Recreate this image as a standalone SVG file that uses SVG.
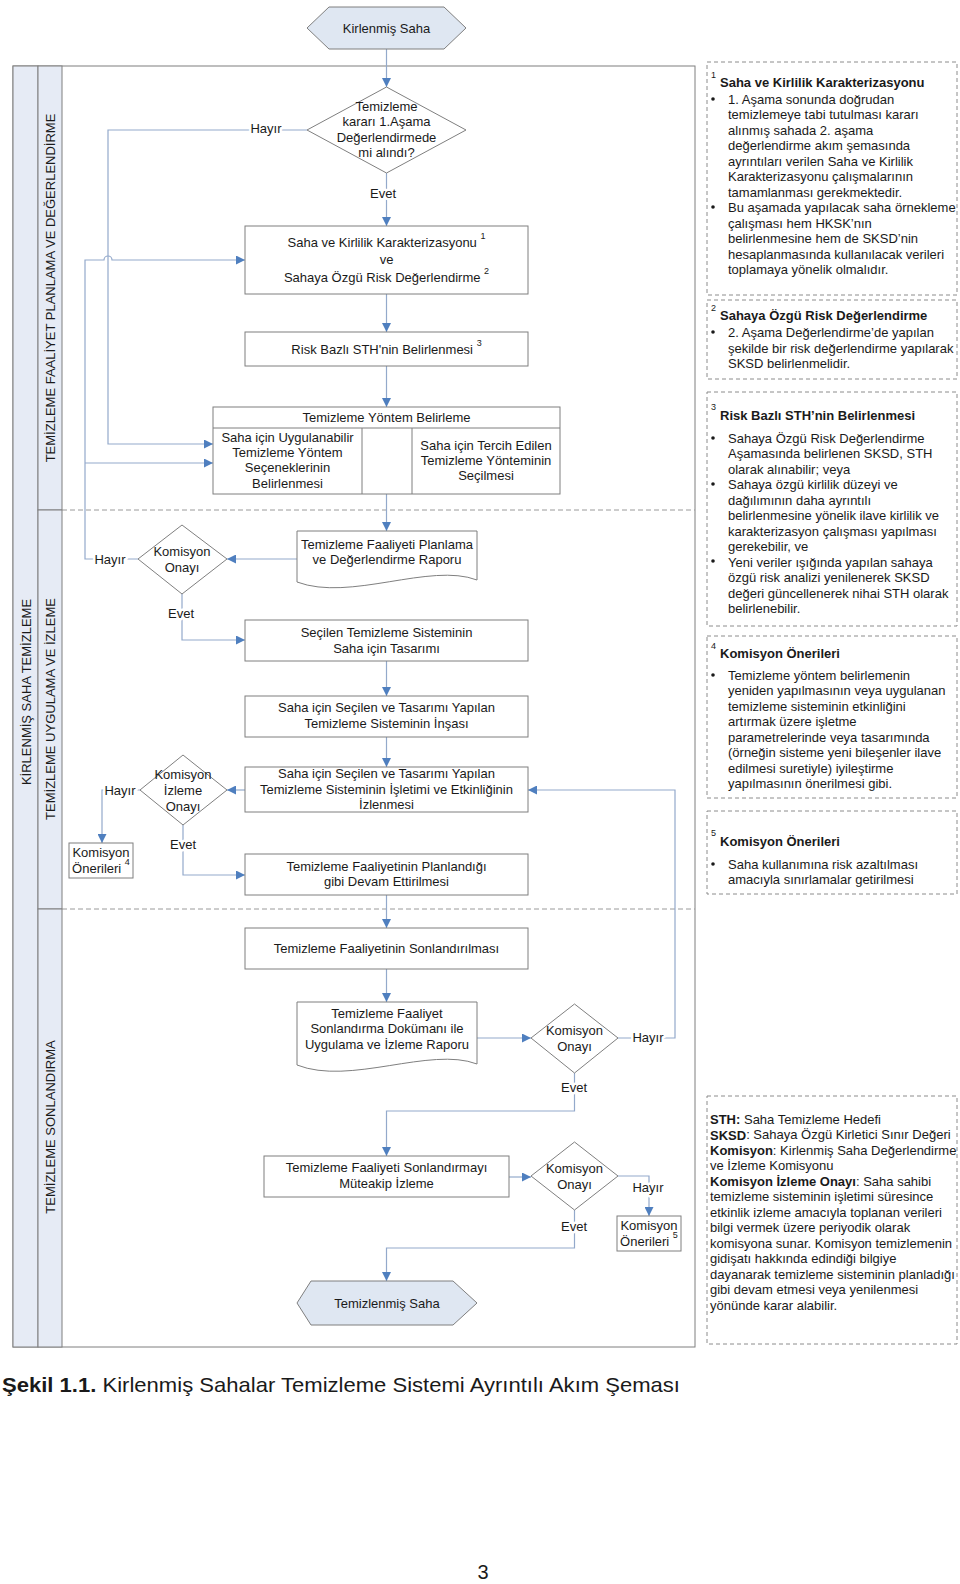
<svg xmlns="http://www.w3.org/2000/svg" width="960" height="1584" viewBox="0 0 960 1584">
<style>
.t{font-family:"Liberation Sans",Arial,sans-serif;font-size:13px;fill:#1a1a1a}
.c{text-anchor:middle;dominant-baseline:central}
.m{dominant-baseline:central}
.b{font-weight:bold}
.lbl{paint-order:stroke;stroke:#fff;stroke-width:5px;stroke-linejoin:round}
.box{fill:#fff;stroke:#7f7f7f;stroke-width:1}
.term{fill:#dfe7f2;stroke:#7f7f7f;stroke-width:1}
.note{fill:#fff;stroke:#8c8c8c;stroke-width:1;stroke-dasharray:4 3}
.conn{fill:none;stroke:#93a9cb;stroke-width:1.2}
.lane{fill:#e6ebf5;stroke:#7f7f7f;stroke-width:1}
.sep{stroke:#9a9a9a;stroke-width:1;stroke-dasharray:5 3}
.sup{font-size:9px}
</style>
<defs>
<marker id="ah" viewBox="0 0 10 10" refX="10" refY="5" markerWidth="9" markerHeight="9" markerUnits="userSpaceOnUse" orient="auto"><path d="M0,0 L10,5 L0,10 z" fill="#4f7fbf"/></marker>
</defs>
<rect width="960" height="1584" fill="#fff"/>

<g id="lanes">
<rect x="13" y="66" width="682" height="1281" fill="#fff" stroke="#7f7f7f"/>
<rect class="lane" x="13" y="66" width="25" height="1281"/>
<rect class="lane" x="38" y="66" width="24" height="444"/>
<rect class="lane" x="38" y="510" width="24" height="399"/>
<rect class="lane" x="38" y="909" width="24" height="438"/>
<line class="sep" x1="62" y1="510" x2="695" y2="510"/>
<line class="sep" x1="62" y1="909" x2="695" y2="909"/>
<text class="t c" transform="translate(26,692) rotate(-90)">KİRLENMİŞ SAHA TEMİZLEME</text>
<text class="t c" transform="translate(50,288) rotate(-90)">TEMİZLEME FAALİYET PLANLAMA VE DEĞERLENDİRME</text>
<text class="t c" transform="translate(50,709) rotate(-90)">TEMİZLEME UYGULAMA VE İZLEME</text>
<text class="t c" transform="translate(50,1127) rotate(-90)">TEMİZLEME SONLANDIRMA</text>
</g>

<g id="connectors">
<path class="conn" d="M386.5,49 V87" marker-end="url(#ah)"/>
<path class="conn" d="M386.5,173 V226" marker-end="url(#ah)"/>
<path class="conn" d="M307,130 H108 V444 H213" marker-end="url(#ah)"/>
<path class="conn" d="M138,559 H85 V260 H104 A4,4 0 0 1 112,260 H245" marker-end="url(#ah)"/>
<path class="conn" d="M85,463 H213" marker-end="url(#ah)"/>
<path class="conn" d="M386.5,294 V332" marker-end="url(#ah)"/>
<path class="conn" d="M386.5,366 V407" marker-end="url(#ah)"/>
<path class="conn" d="M362,461 H412" marker-end="url(#ah)"/>
<path class="conn" d="M386.5,494 V531" marker-end="url(#ah)"/>
<path class="conn" d="M297,559 H227" marker-end="url(#ah)"/>
<path class="conn" d="M182,594 V640 H245" marker-end="url(#ah)"/>
<path class="conn" d="M386.5,661 V696" marker-end="url(#ah)"/>
<path class="conn" d="M386.5,737 V767" marker-end="url(#ah)"/>
<path class="conn" d="M245,790 H227" marker-end="url(#ah)"/>
<path class="conn" d="M140,790 H102 V843" marker-end="url(#ah)"/>
<path class="conn" d="M183,825 V875 H245" marker-end="url(#ah)"/>
<path class="conn" d="M386.5,895 V928" marker-end="url(#ah)"/>
<path class="conn" d="M386.5,969 V1002" marker-end="url(#ah)"/>
<path class="conn" d="M477,1038 H531" marker-end="url(#ah)"/>
<path class="conn" d="M618,1038 H675 V790 H528" marker-end="url(#ah)"/>
<path class="conn" d="M574.5,1073 V1111 H386.5 V1156" marker-end="url(#ah)"/>
<path class="conn" d="M509,1177 H531" marker-end="url(#ah)"/>
<path class="conn" d="M618,1176 H649 V1216" marker-end="url(#ah)"/>
<path class="conn" d="M574.5,1210 V1248 H386.5 V1281" marker-end="url(#ah)"/>
<text class="t c lbl" x="266" y="128">Hayır</text>
<text class="t c lbl" x="383" y="193">Evet</text>
<text class="t c lbl" x="110" y="559">Hayır</text>
<text class="t c lbl" x="181" y="613">Evet</text>
<text class="t c lbl" x="120" y="790">Hayır</text>
<text class="t c lbl" x="183" y="844">Evet</text>
<text class="t c lbl" x="648" y="1037">Hayır</text>
<text class="t c lbl" x="574" y="1087">Evet</text>
<text class="t c lbl" x="648" y="1187">Hayır</text>
<text class="t c lbl" x="574" y="1226">Evet</text>
</g>

<g id="n-kirlenmis-saha">
<polygon class="term" points="307,28 329,7 444,7 466,28 444,49 329,49"/>
<text class="t c" x="386.5" y="28">Kirlenmiş Saha</text>
</g>
<g id="n-karar">
<polygon class="box" points="386.5,87 466,130 386.5,173 307,130"/>
<text class="t c" x="386.5" y="106">Temizleme</text>
<text class="t c" x="386.5" y="121">kararı 1.Aşama</text>
<text class="t c" x="386.5" y="137">Değerlendirmede</text>
<text class="t c" x="386.5" y="152">mi alındı?</text>
</g>
<g id="n-karakterizasyon">
<rect class="box" x="245" y="226" width="283" height="68"/>
<text class="t c" x="386.5" y="242">Saha ve Kirlilik Karakterizasyonu <tspan class="sup" dy="-6">1</tspan></text>
<text class="t c" x="386.5" y="259">ve</text>
<text class="t c" x="386.5" y="277">Sahaya Özgü Risk Değerlendirme <tspan class="sup" dy="-6">2</tspan></text>
</g>
<g id="n-sth">
<rect class="box" x="245" y="332" width="283" height="34"/>
<text class="t c" x="386.5" y="349">Risk Bazlı STH'nin Belirlenmesi <tspan class="sup" dy="-6">3</tspan></text>
</g>
<g id="n-yontem">
<rect class="box" x="213" y="407" width="347" height="87"/>
<line x1="213" y1="428" x2="560" y2="428" stroke="#7f7f7f"/>
<line x1="362" y1="428" x2="362" y2="494" stroke="#7f7f7f"/>
<line x1="412" y1="428" x2="412" y2="494" stroke="#7f7f7f"/>
<text class="t c" x="386.5" y="417">Temizleme Yöntem Belirleme</text>
<text class="t c" x="287.5" y="437">Saha için Uygulanabilir</text>
<text class="t c" x="287.5" y="452">Temizleme Yöntem</text>
<text class="t c" x="287.5" y="467">Seçeneklerinin</text>
<text class="t c" x="287.5" y="483">Belirlenmesi</text>
<text class="t c" x="486" y="445">Saha için Tercih Edilen</text>
<text class="t c" x="486" y="460">Temizleme Yönteminin</text>
<text class="t c" x="486" y="475">Seçilmesi</text>
</g>
<g id="n-rapor1">
<path class="box" d="M297,531 H477 V580 C430,562 350,602 297,582 Z"/>
<text class="t c" x="387" y="544">Temizleme Faaliyeti Planlama</text>
<text class="t c" x="387" y="559">ve Değerlendirme Raporu</text>
</g>
<g id="n-onay1">
<polygon class="box" points="182,525 227,559 182,594 138,559"/>
<text class="t c" x="182" y="551">Komisyon</text>
<text class="t c" x="182" y="567">Onayı</text>
</g>
<g id="n-tasarim">
<rect class="box" x="245" y="620" width="283" height="41"/>
<text class="t c" x="386.5" y="632">Seçilen Temizleme Sisteminin</text>
<text class="t c" x="386.5" y="648">Saha için Tasarımı</text>
</g>
<g id="n-insa">
<rect class="box" x="245" y="696" width="283" height="41"/>
<text class="t c" x="386.5" y="707">Saha için Seçilen ve Tasarımı Yapılan</text>
<text class="t c" x="386.5" y="723">Temizleme Sisteminin İnşası</text>
</g>
<g id="n-isletim">
<rect class="box" x="245" y="767" width="283" height="45"/>
<text class="t c" x="386.5" y="773">Saha için Seçilen ve Tasarımı Yapılan</text>
<text class="t c" x="386.5" y="789">Temizleme Sisteminin İşletimi ve Etkinliğinin</text>
<text class="t c" x="386.5" y="804">İzlenmesi</text>
</g>
<g id="n-izleme-onay">
<polygon class="box" points="183,755 227,790 183,825 140,790"/>
<text class="t c" x="183" y="774">Komisyon</text>
<text class="t c" x="183" y="790">İzleme</text>
<text class="t c" x="183" y="806">Onayı</text>
</g>
<g id="n-oneri4">
<rect class="box" x="69" y="843" width="64" height="35"/>
<text class="t c" x="101" y="852">Komisyon</text>
<text class="t c" x="101" y="868">Önerileri <tspan class="sup" dy="-6">4</tspan></text>
</g>
<g id="n-devam">
<rect class="box" x="245" y="854" width="283" height="41"/>
<text class="t c" x="386.5" y="866">Temizleme Faaliyetinin Planlandığı</text>
<text class="t c" x="386.5" y="881">gibi Devam Ettirilmesi</text>
</g>
<g id="n-sonlandirma">
<rect class="box" x="245" y="928" width="283" height="41"/>
<text class="t c" x="386.5" y="948">Temizleme Faaliyetinin Sonlandırılması</text>
</g>
<g id="n-rapor2">
<path class="box" d="M297,1002 H477 V1064 C430,1046 350,1086 297,1065 Z"/>
<text class="t c" x="387" y="1013">Temizleme Faaliyet</text>
<text class="t c" x="387" y="1028">Sonlandırma Dokümanı ile</text>
<text class="t c" x="387" y="1044">Uygulama ve İzleme Raporu</text>
</g>
<g id="n-onay2">
<polygon class="box" points="574.5,1004 618,1038 574.5,1073 531,1038"/>
<text class="t c" x="574.5" y="1030">Komisyon</text>
<text class="t c" x="574.5" y="1046">Onayı</text>
</g>
<g id="n-muteakip">
<rect class="box" x="264" y="1156" width="245" height="41"/>
<text class="t c" x="386.5" y="1167">Temizleme Faaliyeti Sonlandırmayı</text>
<text class="t c" x="386.5" y="1183">Müteakip İzleme</text>
</g>
<g id="n-onay3">
<polygon class="box" points="574.5,1142 618,1176 574.5,1210 531,1176"/>
<text class="t c" x="574.5" y="1168">Komisyon</text>
<text class="t c" x="574.5" y="1184">Onayı</text>
</g>
<g id="n-oneri5">
<rect class="box" x="617" y="1216" width="64" height="35"/>
<text class="t c" x="649" y="1225">Komisyon</text>
<text class="t c" x="649" y="1241">Önerileri <tspan class="sup" dy="-6">5</tspan></text>
</g>
<g id="n-temizlenmis-saha">
<polygon class="term" points="297,1303 311,1281 453,1281 477,1303 453,1325 311,1325"/>
<text class="t c" x="387" y="1303">Temizlenmiş Saha</text>
</g>

<g id="note1">
<rect class="note" x="707" y="62" width="250" height="233"/>
<text class="t sup" x="711" y="78">1</text>
<text class="t m b" x="720" y="82">Saha ve Kirlilik Karakterizasyonu</text>
<circle cx="713" cy="99" r="1.8" fill="#1a1a1a"/>
<circle cx="713" cy="207" r="1.8" fill="#1a1a1a"/>
<text class="t m" x="728" y="99">1. Aşama sonunda doğrudan</text>
<text class="t m" x="728" y="114.5">temizlemeye tabi tutulması kararı</text>
<text class="t m" x="728" y="130">alınmış sahada 2. aşama</text>
<text class="t m" x="728" y="145.5">değerlendirme akım şemasında</text>
<text class="t m" x="728" y="161">ayrıntıları verilen Saha ve Kirlilik</text>
<text class="t m" x="728" y="176.5">Karakterizasyonu çalışmalarının</text>
<text class="t m" x="728" y="192">tamamlanması gerekmektedir.</text>
<text class="t m" x="728" y="207.5">Bu aşamada yapılacak saha örnekleme</text>
<text class="t m" x="728" y="223">çalışması hem HKSK’nın</text>
<text class="t m" x="728" y="238.5">belirlenmesine hem de SKSD’nin</text>
<text class="t m" x="728" y="254">hesaplanmasında kullanılacak verileri</text>
<text class="t m" x="728" y="269.5">toplamaya yönelik olmalıdır.</text>
</g>
<g id="note2">
<rect class="note" x="707" y="300" width="250" height="79"/>
<text class="t sup" x="711" y="311">2</text>
<text class="t m b" x="720" y="315">Sahaya Özgü Risk Değerlendirme</text>
<circle cx="713" cy="332" r="1.8" fill="#1a1a1a"/>
<text class="t m" x="728" y="332">2. Aşama Değerlendirme’de yapılan</text>
<text class="t m" x="728" y="348">şekilde bir risk değerlendirme yapılarak</text>
<text class="t m" x="728" y="363">SKSD belirlenmelidir.</text>
</g>
<g id="note3">
<rect class="note" x="707" y="392" width="250" height="234"/>
<text class="t sup" x="711" y="410">3</text>
<text class="t m b" x="720" y="415">Risk Bazlı STH’nin Belirlenmesi</text>
<circle cx="713" cy="438" r="1.8" fill="#1a1a1a"/>
<circle cx="713" cy="484" r="1.8" fill="#1a1a1a"/>
<circle cx="713" cy="561" r="1.8" fill="#1a1a1a"/>
<text class="t m" x="728" y="438">Sahaya Özgü Risk Değerlendirme</text>
<text class="t m" x="728" y="453.5">Aşamasında belirlenen SKSD, STH</text>
<text class="t m" x="728" y="469">olarak alınabilir; veya</text>
<text class="t m" x="728" y="484.5">Sahaya özgü kirlilik düzeyi ve</text>
<text class="t m" x="728" y="500">dağılımının daha ayrıntılı</text>
<text class="t m" x="728" y="515.5">belirlenmesine yönelik ilave kirlilik ve</text>
<text class="t m" x="728" y="531">karakterizasyon çalışması yapılması</text>
<text class="t m" x="728" y="546.5">gerekebilir, ve</text>
<text class="t m" x="728" y="562">Yeni veriler ışığında yapılan sahaya</text>
<text class="t m" x="728" y="577.5">özgü risk analizi yenilenerek SKSD</text>
<text class="t m" x="728" y="593">değeri güncellenerek nihai STH olarak</text>
<text class="t m" x="728" y="608.5">belirlenebilir.</text>
</g>
<g id="note4">
<rect class="note" x="707" y="636" width="250" height="162"/>
<text class="t sup" x="711" y="649">4</text>
<text class="t m b" x="720" y="653">Komisyon Önerileri</text>
<circle cx="713" cy="675" r="1.8" fill="#1a1a1a"/>
<text class="t m" x="728" y="675">Temizleme yöntem belirlemenin</text>
<text class="t m" x="728" y="690.5">yeniden yapılmasının veya uygulanan</text>
<text class="t m" x="728" y="706">temizleme sisteminin etkinliğini</text>
<text class="t m" x="728" y="721.5">artırmak üzere işletme</text>
<text class="t m" x="728" y="737">parametrelerinde veya tasarımında</text>
<text class="t m" x="728" y="752.5">(örneğin sisteme yeni bileşenler ilave</text>
<text class="t m" x="728" y="768">edilmesi suretiyle) iyileştirme</text>
<text class="t m" x="728" y="783.5">yapılmasının önerilmesi gibi.</text>
</g>
<g id="note5">
<rect class="note" x="707" y="811" width="250" height="83"/>
<text class="t sup" x="711" y="836">5</text>
<text class="t m b" x="720" y="841">Komisyon Önerileri</text>
<circle cx="713" cy="864" r="1.8" fill="#1a1a1a"/>
<text class="t m" x="728" y="864">Saha kullanımına risk azaltılması</text>
<text class="t m" x="728" y="879.5">amacıyla sınırlamalar getirilmesi</text>
</g>
<g id="note6">
<rect class="note" x="707" y="1096" width="250" height="248"/>
<text class="t m" x="710" y="1119"><tspan class="b">STH:</tspan> Saha Temizleme Hedefi</text>
<text class="t m" x="710" y="1134.5"><tspan class="b">SKSD</tspan>: Sahaya Özgü Kirletici Sınır Değeri</text>
<text class="t m" x="710" y="1150"><tspan class="b">Komisyon</tspan>: Kirlenmiş Saha Değerlendirme</text>
<text class="t m" x="710" y="1165.5">ve İzleme Komisyonu</text>
<text class="t m" x="710" y="1181"><tspan class="b">Komisyon İzleme Onayı</tspan>: Saha sahibi</text>
<text class="t m" x="710" y="1196.5">temizleme sisteminin işletimi süresince</text>
<text class="t m" x="710" y="1212">etkinlik izleme amacıyla toplanan verileri</text>
<text class="t m" x="710" y="1227.5">bilgi vermek üzere periyodik olarak</text>
<text class="t m" x="710" y="1243">komisyona sunar. Komisyon temizlemenin</text>
<text class="t m" x="710" y="1258.5">gidişatı hakkında edindiği bilgiye</text>
<text class="t m" x="710" y="1274">dayanarak temizleme sisteminin planladığı</text>
<text class="t m" x="710" y="1289.5">gibi devam etmesi veya yenilenmesi</text>
<text class="t m" x="710" y="1305">yönünde karar alabilir.</text>
</g>

<g id="caption">
<text class="t m" x="2" y="1384" style="font-size:21px" textLength="678" lengthAdjust="spacingAndGlyphs"><tspan class="b">Şekil 1.1.</tspan> Kirlenmiş Sahalar Temizleme Sistemi Ayrıntılı Akım Şeması</text>
<text class="t c" x="483" y="1572" style="font-size:20px">3</text>
</g>
</svg>
